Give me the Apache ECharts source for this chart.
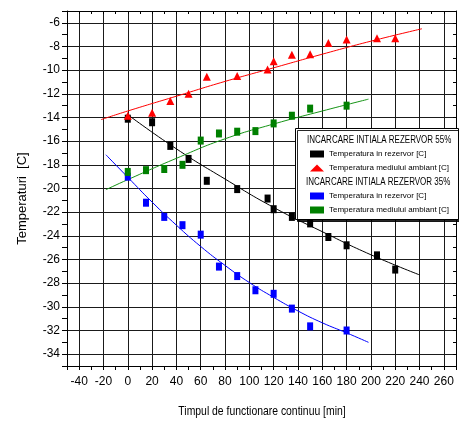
<!DOCTYPE html>
<html>
<head>
<meta charset="utf-8">
<script src="https://cdn.jsdelivr.net/npm/echarts@6/dist/echarts.min.js"></script>
<style>
html, body { margin: 0; padding: 0; background: #fff; }
#chart { width: 459px; height: 422px; }
</style>
</head>
<body>
<div id="chart"></div>
<script>
var font = "'Liberation Sans', Arial, sans-serif";

// incarcare initiala rezervor 55%
var timp55 = [0, 20, 35, 50, 65, 90, 115, 120, 135, 150, 165, 180, 205, 220];
var rezervor55 = [-14.1, -14.4, -16.4, -17.5, -19.35, -20.05, -20.85, -21.75, -22.4, -22.95, -24.1, -24.8, -25.65, -26.85];
var ambient55 = [-13.85, -13.6, -12.6, -12.0, -10.55, -10.5, -9.95, -9.25, -8.7, -8.65, -7.7, -7.4, -7.3, -7.3];

// incarcare initiala rezervor 35%
var timp35 = [0, 15, 30, 45, 60, 75, 90, 105, 120, 135, 150, 180];
var rezervor35 = [-19.0, -21.2, -22.4, -23.1, -23.9, -26.6, -27.4, -28.6, -28.9, -30.15, -31.65, -32.0];
var ambient35 = [-18.6, -18.45, -18.35, -18.0, -15.95, -15.35, -15.2, -15.15, -14.5, -13.85, -13.25, -13.0];

// curbele de tendinta
var fitRez55X = [0, 40, 80, 120, 160, 200, 240];
var fitRez55Y = [-13.76, -16.65, -19.2, -21.6, -23.65, -25.6, -27.3];
var fitAmb55X = [-22, 0, 40, 80, 120, 160, 200, 242];
var fitAmb55Y = [-14.18, -13.45, -12.2, -10.95, -9.8, -8.65, -7.55, -6.5];
var fitRez35X = [-18, 0, 20, 40, 60, 80, 100, 120, 140, 160, 180, 198];
var fitRez35Y = [-17.15, -19.05, -21.15, -23.1, -24.9, -26.5, -27.95, -29.2, -30.35, -31.35, -32.2, -33.0];
var fitAmb35X = [-18, 0, 40, 80, 120, 160, 198];
var fitAmb35Y = [-20.1, -19.25, -17.45, -15.8, -14.55, -13.45, -12.45];

var numeRez = 'Temperatura in rezervor [C]';
var numeAmb = 'Temperatura mediului ambiant [C]';
// acelasi text in legenda, dar serii diferite
var numeRez35 = numeRez + ' ';
var numeAmb35 = numeAmb + ' ';

function perechi(xs, ys) {
    return xs.map(function (x, i) { return [x, ys[i]]; });
}

function linie(nume, xs, ys, culoare) {
    return {
        name: nume,
        type: 'line',
        data: perechi(xs, ys),
        smooth: true,
        symbol: 'none',
        silent: true,
        lineStyle: { color: culoare, width: 1 },
        z: 2
    };
}

function puncte(nume, xs, ys, culoare, simbol, marime) {
    return {
        name: nume,
        type: 'scatter',
        data: perechi(xs, ys),
        symbol: simbol,
        symbolSize: marime,
        itemStyle: { color: culoare, opacity: 1 },
        z: 3
    };
}

function legenda(nume, sus) {
    return {
        data: nume,
        orient: 'vertical',
        left: 310,
        top: sus,
        padding: 0,
        itemGap: 4,
        itemWidth: 14,
        itemHeight: 7,
        selectedMode: false,
        formatter: function (n) { return n.trim(); },
        textStyle: { color: '#000', fontSize: 8, lineHeight: 10, fontFamily: font },
        z: 10
    };
}

var myChart = echarts.init(document.getElementById('chart'));

var axaX = { type: 'value', min: -50, max: 270, interval: 10 };
var axaY = { type: 'value', min: -35, max: -5, interval: 1 };
var linieAxa = { show: true, onZero: false, lineStyle: { color: '#000', width: 1 } };

var option = {
    animation: false,
    backgroundColor: '#fff',
    grid: { left: 67, right: 2, top: 11, bottom: 56, containLabel: false },
    xAxis: [
        Object.assign({}, axaX, {
            position: 'bottom',
            axisLine: linieAxa,
            axisTick: { show: true, length: 4, lineStyle: { color: '#000' } },
            axisLabel: {
                margin: 10,
                color: '#000',
                fontSize: 12,
                fontFamily: font,
                formatter: function (v) { return v % 20 === 0 ? String(v) : ''; }
            },
            splitLine: { show: true, lineStyle: { color: ['transparent', '#1a1a1a'], width: 1 } }
        }),
        Object.assign({}, axaX, {
            position: 'top',
            axisLine: linieAxa,
            axisTick: { show: true, inside: true, length: 3, lineStyle: { color: '#000' } },
            axisLabel: { show: false },
            splitLine: { show: false }
        })
    ],
    yAxis: [
        Object.assign({}, axaY, {
            position: 'left',
            axisLine: linieAxa,
            axisTick: { show: true, length: 5, lineStyle: { color: '#000' } },
            axisLabel: {
                margin: 7,
                color: '#000',
                fontSize: 12,
                fontFamily: font,
                formatter: function (v) { return v % 2 === 0 ? String(v) : ''; }
            },
            splitLine: { show: true, lineStyle: { color: ['transparent', '#1a1a1a'], width: 1 } },
            name: 'Temperaturi  [C]',
            nameLocation: 'middle',
            nameGap: 38,
            nameTextStyle: { color: '#000', fontSize: 13, fontFamily: font, padding: [0, 20, 0, 0] }
        }),
        Object.assign({}, axaY, {
            position: 'right',
            axisLine: linieAxa,
            axisTick: { show: true, inside: true, length: 3, lineStyle: { color: '#000' } },
            axisLabel: { show: false },
            splitLine: { show: false }
        })
    ],
    legend: [
        legenda([numeRez, numeAmb], 149),
        legenda([numeRez35, numeAmb35], 191)
    ],
    graphic: [
        {
            type: 'rect',
            z: 5,
            shape: { x: 295.5, y: 128.5, width: 163, height: 91 },
            style: {
                fill: '#fff', stroke: '#000', lineWidth: 1,
                shadowColor: 'rgba(0,0,0,0.85)', shadowOffsetX: 2, shadowOffsetY: 2, shadowBlur: 0
            }
        },
        {
            type: 'text',
            z: 6,
            x: 307,
            y: 140,
            scaleX: 0.8,
            style: { text: 'INCARCARE INTIALA REZERVOR 55%', fill: '#000', font: '10px ' + font, verticalAlign: 'middle' }
        },
        {
            type: 'text',
            z: 6,
            x: 306,
            y: 182,
            scaleX: 0.8,
            style: { text: 'INCARCARE INTIALA REZERVOR 35%', fill: '#000', font: '10px ' + font, verticalAlign: 'middle' }
        },
        {
            type: 'text',
            z: 6,
            x: 262,
            y: 411,
            scaleX: 0.8,
            style: { text: 'Timpul de functionare continuu [min]', fill: '#000', font: '13px ' + font, align: 'center', verticalAlign: 'middle' }
        }
    ],
    series: [
        linie('fit rezervor 55', fitRez55X, fitRez55Y, '#000'),
        linie('fit ambient 55', fitAmb55X, fitAmb55Y, '#ff0000'),
        linie('fit ambient 35', fitAmb35X, fitAmb35Y, '#159415'),
        linie('fit rezervor 35', fitRez35X, fitRez35Y, '#0000ff'),
        puncte(numeRez, timp55, rezervor55, '#000', 'rect', [6, 8]),
        puncte(numeAmb, timp55, ambient55, '#ff0000', 'triangle', [8, 8]),
        puncte(numeRez35, timp35, rezervor35, '#0000ff', 'rect', [6, 8]),
        puncte(numeAmb35, timp35, ambient35, '#008000', 'rect', [6, 8])
    ]
};

myChart.setOption(option);
</script>
</body>
</html>
